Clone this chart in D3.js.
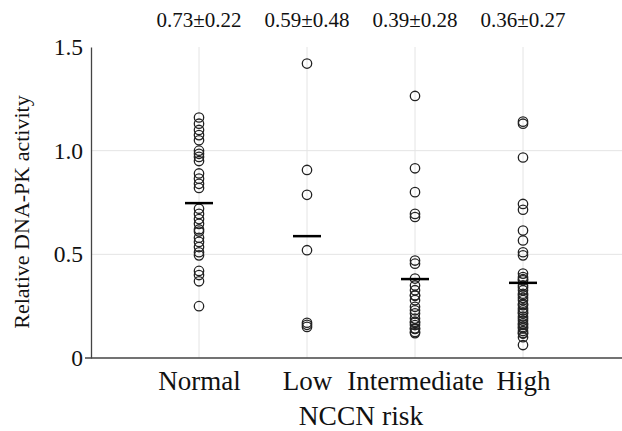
<!DOCTYPE html>
<html>
<head>
<meta charset="utf-8">
<script src="https://cdn.jsdelivr.net/npm/d3@7"></script>
<style>
  body { margin: 0; background: #fff; }
  svg { display: block; }
</style>
</head>
<body>
<svg id="chart"></svg>
<script>
// values
var categories = ["Normal", "Low", "Intermediate", "High"];
var normalVals = [1.16, 1.13, 1.10, 1.075, 1.05, 1.0, 0.985, 0.97, 0.95, 0.89, 0.865, 0.84, 0.82,
  0.72, 0.695, 0.67, 0.647, 0.62, 0.61, 0.58, 0.56, 0.535, 0.51, 0.495, 0.42, 0.40, 0.37, 0.25];
var lowVals = [1.42, 0.907, 0.787, 0.52, 0.17, 0.16, 0.15];
var intermediateVals = [1.264, 0.915, 0.80, 0.695, 0.68, 0.47, 0.455, 0.383, 0.35, 0.327, 0.30,
  0.303, 0.279, 0.247, 0.23, 0.215, 0.19, 0.175, 0.17, 0.159, 0.143, 0.14, 0.126, 0.12];
var highVals = [1.14, 1.13, 0.967, 0.743, 0.715, 0.615, 0.567, 0.51, 0.495, 0.407, 0.39, 0.38,
  0.375, 0.35, 0.34, 0.327, 0.31, 0.303, 0.29, 0.279, 0.26, 0.255, 0.24, 0.23, 0.22, 0.215,
  0.20, 0.19, 0.18, 0.167, 0.16, 0.15, 0.143, 0.13, 0.12, 0.118, 0.10, 0.0625];
var statLabels = ["0.73\u00b10.22", "0.59\u00b10.48", "0.39\u00b10.28", "0.36\u00b10.27"];
var yTicks = [0, 0.5, 1.0, 1.5];
var yGrid = [0.5, 1.0];
var yTitle = "Relative DNA-PK activity";
var xTitle = "NCCN risk";

var groups = [
  {name: "Normal", values: normalVals},
  {name: "Low", values: lowVals},
  {name: "Intermediate", values: intermediateVals},
  {name: "High", values: highVals}
];

var width = 622, height = 431;
var font = "'Liberation Serif', 'Times New Roman', serif";

var svg = d3.select("#chart")
  .attr("width", width)
  .attr("height", height)
  .style("font-family", font);

var x = d3.scalePoint()
  .domain(categories)
  .range([91, 631])
  .padding(1);

var y = d3.scaleLinear()
  .domain([0, 1.5])
  .range([358, 47]);

// grid
svg.append("g")
  .selectAll("line")
  .data(yGrid)
  .join("line")
  .attr("x1", x.range()[0])
  .attr("x2", width)
  .attr("y1", d => y(d))
  .attr("y2", d => y(d))
  .attr("stroke", "#e4e4e4")
  .attr("stroke-width", 1);

svg.append("g")
  .selectAll("line")
  .data(categories)
  .join("line")
  .attr("x1", d => x(d))
  .attr("x2", d => x(d))
  .attr("y1", y(0))
  .attr("y2", y(1.5))
  .attr("stroke", "#e4e4e4")
  .attr("stroke-width", 1);

// y axis
var yAxis = svg.append("g")
  .attr("transform", `translate(${x.range()[0]},0)`)
  .call(d3.axisLeft(y)
    .tickValues(yTicks)
    .tickFormat(d => d === 0 ? "0" : d3.format(".1f")(d))
    .tickSize(0)
    .tickSizeOuter(0)
    .tickPadding(8));
yAxis.select(".domain").attr("stroke", "#444").attr("stroke-width", 1.3);
yAxis.selectAll(".tick text")
  .attr("dy", "0.32em")
  .attr("font-size", 23.5)
  .attr("font-family", font)
  .attr("fill", "#111");

// x axis
var xAxis = svg.append("g")
  .attr("transform", `translate(0,${y(0)})`)
  .call(d3.axisBottom(x).tickSize(0).tickSizeOuter(0).tickPadding(0));
xAxis.select(".domain").remove();
xAxis.append("line")
  .attr("x1", x.range()[0] - 6)
  .attr("x2", width)
  .attr("stroke", "#444")
  .attr("stroke-width", 1.3);
xAxis.selectAll(".tick text")
  .attr("y", 32)
  .attr("dy", null)
  .attr("font-size", 27)
  .attr("font-family", font)
  .attr("fill", "#111");

// titles
svg.append("text")
  .attr("x", (x(categories[1]) + x(categories[2])) / 2)
  .attr("y", 425)
  .attr("text-anchor", "middle")
  .attr("font-size", 27.5)
  .attr("fill", "#111")
  .text(xTitle);

svg.append("text")
  .attr("transform", "translate(29,212) rotate(-90)")
  .attr("text-anchor", "middle")
  .attr("font-size", 22)
  .attr("fill", "#111")
  .text(yTitle);

// stats above each group
svg.append("g")
  .selectAll("text")
  .data(statLabels)
  .join("text")
  .attr("x", (d, i) => x(categories[i]))
  .attr("y", 27)
  .attr("text-anchor", "middle")
  .attr("font-size", 21)
  .attr("fill", "#111")
  .text(d => d);

// points
svg.append("g")
  .selectAll("g")
  .data(groups)
  .join("g")
  .selectAll("circle")
  .data(g => g.values.map(v => ({name: g.name, v: v})))
  .join("circle")
  .attr("cx", d => x(d.name))
  .attr("cy", d => y(d.v))
  .attr("r", 4.7)
  .attr("fill", "none")
  .attr("stroke", "#222")
  .attr("stroke-width", 1.3);

// mean bars
svg.append("g")
  .selectAll("line")
  .data(groups)
  .join("line")
  .attr("x1", d => x(d.name) - 14)
  .attr("x2", d => x(d.name) + 14)
  .attr("y1", d => y(d3.mean(d.values)))
  .attr("y2", d => y(d3.mean(d.values)))
  .attr("stroke", "#000")
  .attr("stroke-width", 2.5);
</script>
</body>
</html>
